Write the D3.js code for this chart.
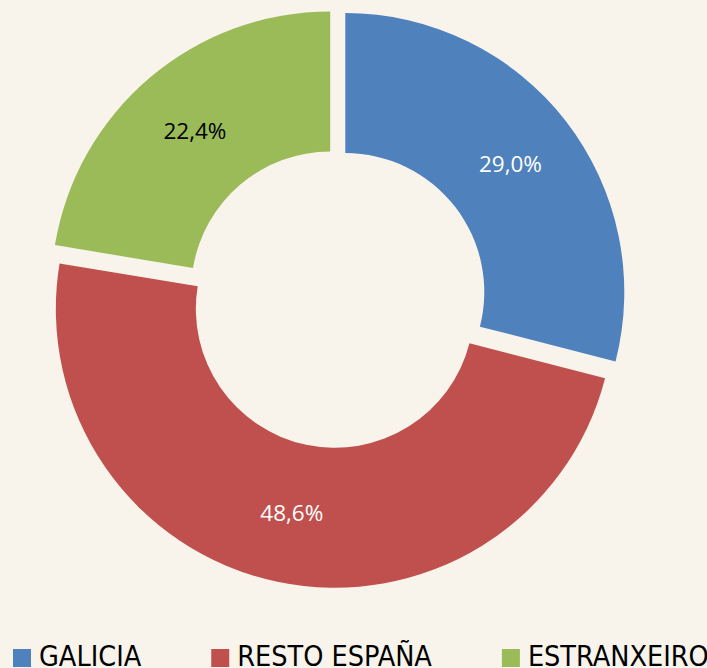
<!DOCTYPE html>
<html>
<head>
<meta charset="utf-8">
<script src="https://cdn.jsdelivr.net/npm/d3@7"></script>
<style>
  html, body { margin: 0; padding: 0; background: #f8f4ec; }
  svg { display: block; }
</style>
</head>
<body>
<svg id="chart"></svg>
<script>
// data
let categories = ['GALICIA', 'RESTO ESPAÑA', 'ESTRANXEIRO'];
let values = [29.0, 48.6, 22.4];
let labels = ['29,0%', '48,6%', '22,4%'];

let colors = ['#4f81bd', '#c0504d', '#9bbb59'];
let labelColors = ['#ffffff', '#ffffff', '#000000'];

let width = 707;
let height = 668;
let cx = 337;
let cy = 298.5;
let outerR = 279;
let innerR = 139;
let explode = 10.5;

let svg = d3.select('#chart')
  .attr('width', width)
  .attr('height', height);

svg.append('rect')
  .attr('width', width)
  .attr('height', height)
  .attr('fill', '#f8f4ec');

let g = svg.append('g')
  .attr('transform', 'translate(' + cx + ',' + cy + ')');

let pie = d3.pie()
  .value(function (d) { return d; })
  .sort(null);

let arc = d3.arc()
  .innerRadius(innerR)
  .outerRadius(outerR);

let arcs = pie(values);

// each slice pulled out a little along its middle angle
let slice = g.selectAll('.slice')
  .data(arcs)
  .enter()
  .append('g')
  .attr('class', 'slice')
  .attr('transform', function (d) {
    let mid = (d.startAngle + d.endAngle) / 2;
    return 'translate(' + (Math.sin(mid) * explode) + ',' + (-Math.cos(mid) * explode) + ')';
  });

slice.append('path')
  .attr('d', arc)
  .attr('fill', function (d, i) { return colors[i]; });

slice.append('text')
  .attr('transform', function (d) { return 'translate(' + arc.centroid(d) + ')'; })
  .attr('text-anchor', 'middle')
  .attr('dy', '0.35em')
  .style('font-family', '"Open Sans", "Noto Sans", sans-serif')
  .style('font-size', '22.5px')
  .attr('fill', function (d, i) { return labelColors[i]; })
  .text(function (d, i) { return labels[i]; });

//======= legend =======//
let legend = svg.append('g').attr('class', 'legend');
let lx = 13;
categories.forEach(function (c, i) {
  let item = legend.append('g');
  item.append('rect')
    .attr('x', lx)
    .attr('y', 649)
    .attr('width', 18)
    .attr('height', 18)
    .attr('fill', colors[i]);
  let t = item.append('text')
    .attr('x', lx + 26)
    .attr('y', 666)
    .style('font-family', '"DejaVu Sans Condensed", "Liberation Sans Narrow", sans-serif')
    .style('font-size', '28.5px')
    .attr('fill', '#000')
    .text(c);
  lx += 26 + t.node().getComputedTextLength() + 70;
});
</script>
</body>
</html>
